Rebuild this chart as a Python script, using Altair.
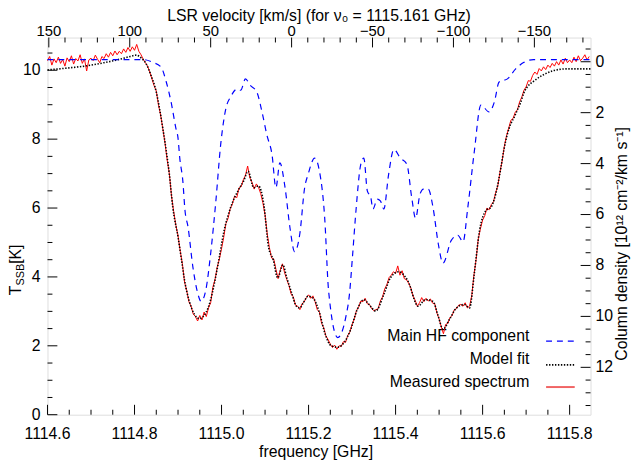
import altair as alt
import numpy as np
import pandas as pd

FONT = "Liberation Sans"
FS = 16

# ---------------- axis ranges ----------------
FREQ_DOMAIN = [1114.6, 1115.848]      # GHz
T_DOMAIN = [0.0, 10.95]               # K
NU0 = 1115.161                        # GHz, rest frequency for velocity axis
C_KMS = 299792.458
V_DOMAIN = [C_KMS * (1 - FREQ_DOMAIN[1] / NU0), C_KMS * (1 - FREQ_DOMAIN[0] / NU0)]
COLDEN_DOMAIN = [-0.95, 13.86]        # 1e12 cm^-2 / km s^-1 (inverted axis)

FREQ_MAJOR = [1114.6, 1114.8, 1115.0, 1115.2, 1115.4, 1115.6, 1115.8]
FREQ_LABELS = ["1114.6", "1114.8", "1115.0", "1115.2", "1115.4", "1115.6", "1115.8"]
FREQ_MINOR = [round(1114.6 + 0.05 * i, 3) for i in range(25) if i % 4 != 0]
T_MAJOR = [0, 2, 4, 6, 8, 10]
T_LABELS = ["0", "2", "4", "6", "8", "10"]
T_MINOR = [0.5 * i for i in range(22) if i % 4 != 0]
V_MAJOR = [150, 100, 50, 0, -50, -100, -150]
V_LABELS = ["150", "100", "50", "0", "\u221250", "\u2212100", "\u2212150"]
V_MINOR = [v for v in range(-180, 151, 10) if v % 50 != 0]
N_MAJOR = [0, 2, 4, 6, 8, 10, 12]
N_LABELS = ["0", "2", "4", "6", "8", "10", "12"]
N_MINOR = [0.5 * i for i in range(-1, 28) if not (i % 4 == 0 and 0 <= i <= 24)]

# ---------------- model fit (black dotted) ----------------
model_freq = [1114.600, 1114.650, 1114.691, 1114.730, 1114.766, 1114.790, 1114.804, 1114.815,
              1114.827, 1114.838, 1114.850, 1114.858, 1114.865, 1114.873, 1114.880, 1114.888,
              1114.900, 1114.908, 1114.915, 1114.926, 1114.938, 1114.949, 1114.964, 1114.975,
              1114.991, 1115.006, 1115.021, 1115.040, 1115.051, 1115.061, 1115.074, 1115.085,
              1115.097, 1115.108, 1115.119, 1115.129, 1115.141, 1115.150, 1115.161, 1115.172,
              1115.180, 1115.188, 1115.199, 1115.210, 1115.225, 1115.237, 1115.252, 1115.267,
              1115.282, 1115.297, 1115.312, 1115.327, 1115.339, 1115.354, 1115.373, 1115.388,
              1115.407, 1115.428, 1115.452, 1115.468, 1115.486, 1115.498, 1115.509, 1115.524,
              1115.540, 1115.558, 1115.570, 1115.581, 1115.593, 1115.608, 1115.619, 1115.630,
              1115.642, 1115.649, 1115.657, 1115.665, 1115.672, 1115.680, 1115.687, 1115.695,
              1115.705, 1115.717, 1115.740, 1115.763, 1115.793, 1115.848]
model_T = [10.01, 10.07, 10.13, 10.22, 10.32, 10.40, 10.44, 10.36,
           10.18, 9.85, 9.37, 8.85, 8.32, 7.65, 6.99, 6.02,
           5.16, 4.50, 3.90, 3.29, 2.91, 2.79, 2.96, 3.34,
           4.30, 5.35, 6.02, 6.55, 6.79, 7.07, 6.59, 6.64,
           6.12, 4.87, 4.49, 3.97, 4.35, 3.97, 3.54, 3.15,
           3.10, 3.25, 3.44, 3.39, 2.96, 2.39, 2.00, 1.96,
           2.10, 2.48, 3.06, 3.34, 3.20, 3.01, 3.49, 3.97,
           4.15, 3.89, 3.15, 3.34, 3.29, 2.86, 2.48, 2.77,
           3.10, 3.20, 3.10, 4.11, 5.35, 5.93, 6.02, 6.40,
           7.17, 7.70, 8.15, 8.45, 8.62, 8.85, 9.05, 9.35,
           9.55, 9.68, 9.87, 9.99, 10.04, 10.04]

# ---------------- main HF component (blue dashed) ----------------
hf_freq = [1114.600, 1114.820, 1114.842, 1114.861, 1114.873, 1114.884, 1114.895, 1114.900,
           1114.904, 1114.911, 1114.916, 1114.923, 1114.934, 1114.945, 1114.953, 1114.964,
           1114.975, 1114.987, 1114.998, 1115.010, 1115.021, 1115.036, 1115.044, 1115.055,
           1115.066, 1115.081, 1115.093, 1115.104, 1115.116, 1115.125, 1115.134, 1115.146,
           1115.157, 1115.168, 1115.180, 1115.191, 1115.199, 1115.214, 1115.225, 1115.237,
           1115.246, 1115.267, 1115.286, 1115.294, 1115.301, 1115.309, 1115.320, 1115.327,
           1115.335, 1115.343, 1115.348, 1115.358, 1115.365, 1115.373, 1115.384, 1115.396,
           1115.411, 1115.426, 1115.437, 1115.446, 1115.456, 1115.464, 1115.475, 1115.486,
           1115.498, 1115.509, 1115.528, 1115.543, 1115.555, 1115.566, 1115.581, 1115.596,
           1115.615, 1115.627, 1115.638, 1115.657, 1115.676, 1115.695, 1115.717, 1115.848]
hf_T = [10.31, 10.31, 10.23, 10.09, 9.66, 9.08, 8.32, 8.03,
        7.45, 6.79, 5.93, 5.45, 4.30, 3.54, 3.29, 3.63,
        4.68, 6.21, 7.84, 8.89, 9.23, 9.46, 9.42, 9.75,
        9.56, 9.37, 8.79, 8.13, 7.55, 6.59, 7.31, 6.59,
        5.45, 4.73, 5.26, 6.59, 6.98, 7.45, 7.07, 5.73,
        3.60, 2.24, 2.86, 3.50, 4.60, 5.93, 7.27, 7.45,
        6.50, 6.31, 5.97, 6.26, 6.21, 5.97, 6.98, 7.70,
        7.45, 7.27, 6.31, 5.70, 6.40, 6.55, 6.55, 6.02,
        4.97, 4.40, 5.06, 5.21, 5.02, 6.02, 7.65, 8.99,
        8.79, 9.08, 9.66, 9.75, 10.04, 10.23, 10.31, 10.31]

# ---------------- measured spectrum (red), channels every 5 MHz from 1114.600 GHz ----------------
SPEC_START, SPEC_STEP = 1114.600, 0.005
spec_T = [
    10.28, 10.40, 10.15, 10.33, 10.22, 10.38, 10.20, 10.31, 10.12, 10.36,   # 1114.60
    10.25, 10.42, 10.18, 10.34, 10.27, 10.45, 10.20, 10.33, 9.98, 10.30,    # 1114.65
    10.35, 10.28, 10.44, 10.32, 10.22, 10.40, 10.34, 10.48, 10.38, 10.52,   # 1114.70
    10.42, 10.56, 10.45, 10.55, 10.48, 10.62, 10.52, 10.66, 10.55, 10.68,   # 1114.75
    10.58, 10.75, 10.55, 10.45, 10.32, 10.22, 10.12, 9.95, 9.75, 9.55,      # 1114.80
    9.40, 9.00, 8.70, 8.30, 7.90, 7.40, 7.00, 6.35, 5.90, 5.50,             # 1114.85
    5.20, 4.75, 4.38, 3.85, 3.60, 3.28, 3.15, 2.92, 2.85, 2.72,             # 1114.90
    2.88, 2.75, 2.98, 2.85, 3.10, 3.25, 3.70, 3.92, 4.28, 4.52,             # 1114.95
    4.82, 5.15, 5.55, 5.70, 5.98, 6.12, 6.35, 6.30, 6.58, 6.62,             # 1115.00
    6.82, 6.95, 7.22, 6.88, 6.75, 6.55, 6.70, 6.60, 6.42, 6.15,             # 1115.05
    5.80, 5.25, 4.85, 4.55, 4.52, 4.22, 3.95, 4.20, 4.38, 4.12,             # 1115.10
    3.92, 3.75, 3.50, 3.42, 3.18, 3.15, 3.05, 3.22, 3.28, 3.40,             # 1115.15
    3.48, 3.38, 3.45, 3.28, 3.05, 2.98, 2.65, 2.52, 2.28, 2.18,             # 1115.20
    2.05, 1.95, 2.02, 1.90, 2.00, 1.98, 2.12, 2.10, 2.30, 2.40,             # 1115.25
    2.62, 2.78, 3.02, 3.12, 3.30, 3.28, 3.38, 3.22, 3.20, 3.08,             # 1115.30
    3.02, 3.05, 3.08, 3.30, 3.42, 3.65, 3.78, 3.98, 4.05, 4.15,             # 1115.35
    4.10, 4.32, 4.05, 4.18, 3.95, 3.92, 3.82, 3.68, 3.45, 3.32,             # 1115.40
    3.15, 3.25, 3.40, 3.28, 3.38, 3.30, 3.36, 3.24, 3.22, 2.95,             # 1115.45
    2.78, 2.55, 2.35, 2.62, 2.65, 2.82, 2.88, 3.05, 3.08, 3.18,             # 1115.50
    3.20, 3.15, 3.25, 3.10, 3.15, 3.45, 4.05, 4.50, 5.10, 5.40,             # 1115.55
    5.65, 5.78, 6.00, 5.95, 6.10, 6.18, 6.45, 6.65, 7.05, 7.38,             # 1115.60
    7.80, 8.10, 8.32, 8.55, 8.60, 8.78, 8.85, 9.08, 9.22, 9.42,             # 1115.65
    9.52, 9.70, 9.68, 9.85, 9.95, 9.88, 10.05, 9.98, 10.10, 10.02,          # 1115.70
    10.15, 10.08, 10.20, 10.12, 10.25, 10.15, 10.30, 10.18, 10.35, 10.22,   # 1115.75
    10.30, 10.22, 10.38, 10.25, 10.42, 10.28, 10.35, 10.45, 10.30, 10.40,   # 1115.80
]
spec_freq = [round(SPEC_START + SPEC_STEP * i, 3) for i in range(len(spec_T))]

LEGEND_LABELS = ["Main HF component", "Model fit", "Measured spectrum"]

# ---------------- geometry ----------------
W, H = 550, 382
MAJ, MIN = 10, 5

fx = alt.Scale(domain=FREQ_DOMAIN, zero=False, nice=False)
fy = alt.Scale(domain=T_DOMAIN, zero=False, nice=False)
vx = alt.Scale(domain=V_DOMAIN, reverse=True, zero=False, nice=False)
ny = alt.Scale(domain=COLDEN_DOMAIN, reverse=True, zero=False, nice=False)

spec_df = pd.DataFrame({"freq": spec_freq, "T": spec_T})
model_df = pd.DataFrame({"freq": model_freq, "T": model_T})
hf_df = pd.DataFrame({"freq": hf_freq, "T": hf_T})
one = pd.DataFrame({"a": [0]})


def text(label, x, y, size=FS, align="center", angle=0, baseline="alphabetic"):
    return alt.Chart(one).mark_text(text=label, font=FONT, fontSize=size, color="black",
                                    align=align, baseline=baseline, angle=angle).encode(
        x=alt.value(x), y=alt.value(y))


def xlabels(vals, labels, scale, ypos, size=FS):
    df = pd.DataFrame({"v": vals, "lab": labels})
    return alt.Chart(df).mark_text(font=FONT, fontSize=size, color="black", align="center",
                                   baseline="alphabetic").encode(
        x=alt.X("v:Q", scale=scale, axis=None), y=alt.value(ypos), text="lab:N")


def ylabels(vals, labels, scale, xpos, align):
    df = pd.DataFrame({"v": vals, "lab": labels})
    return alt.Chart(df).mark_text(font=FONT, fontSize=FS, color="black", align=align,
                                   baseline="middle").encode(
        y=alt.Y("v:Q", scale=scale, axis=None), x=alt.value(xpos), text="lab:N")


legend_text = [
    text(LEGEND_LABELS[0], 488, 307, align="right"),
    text(LEGEND_LABELS[1], 488, 331, align="right"),
    text(LEGEND_LABELS[2], 488, 354, align="right"),
]

red = alt.Chart(spec_df).mark_line(color="#ff0000", strokeWidth=1).encode(
    x=alt.X("freq:Q", scale=fx, axis=None), y=alt.Y("T:Q", scale=fy, axis=None))
black = alt.Chart(model_df).mark_line(color="black", strokeWidth=1.6, strokeDash=[1.4, 1.6],
                                      interpolate="monotone").encode(
    x=alt.X("freq:Q", scale=fx, axis=None), y=alt.Y("T:Q", scale=fy, axis=None))
blue = alt.Chart(hf_df).mark_line(color="#0000ff", strokeWidth=1.2, strokeDash=[6, 5],
                                  interpolate="monotone").encode(
    x=alt.X("freq:Q", scale=fx, axis=None), y=alt.Y("T:Q", scale=fy, axis=None))

legend_lines = [
    alt.Chart(one).mark_rule(color="#0000ff", strokeWidth=1.2, strokeDash=[6, 5]).encode(
        x=alt.value(505), x2=alt.value(534), y=alt.value(307.5)),
    alt.Chart(one).mark_rule(color="black", strokeWidth=1.6, strokeDash=[1.4, 1.6]).encode(
        x=alt.value(505), x2=alt.value(534), y=alt.value(331.5)),
    alt.Chart(one).mark_rule(color="#f06464", strokeWidth=2).encode(
        x=alt.value(505), x2=alt.value(534), y=alt.value(354)),
]


def xticks(vals, length, scale, top):
    df = pd.DataFrame({"v": vals})
    y0, y1 = (0, length) if top else (H, H - length)
    return alt.Chart(df).mark_rule(color="black", strokeWidth=1).encode(
        x=alt.X("v:Q", scale=scale, axis=None), y=alt.value(y0), y2=alt.value(y1))


def yticks(vals, length, scale, right):
    df = pd.DataFrame({"v": vals})
    x0, x1 = (W - length, W) if right else (0, length)
    return alt.Chart(df).mark_rule(color="black", strokeWidth=1).encode(
        y=alt.Y("v:Q", scale=scale, axis=None), x=alt.value(x0), x2=alt.value(x1))


titles = [
    text("frequency [GHz]", 272, 424.5),
    text("LSR velocity [km/s] (for \u03bd\u2080 = 1115.161 GHz)", 275, -16.5),
    text("T", -27, 261, angle=270, align="left"),
    text("SSB", -23.5, 251.2, size=11, angle=270, align="left"),
    text("\u00a0[K]", -27, 229.2, angle=270, align="left"),
    text("Column density [10\u00b9\u00b2 cm\u207b\u00b2/km s\u207b\u00b9]", 587, 209, angle=270),
]

group_a = alt.layer(
    *legend_text, red, black, blue, *legend_lines,
    xticks(FREQ_MAJOR, MAJ, fx, False), xticks(FREQ_MINOR, MIN, fx, False),
    yticks(T_MAJOR, MAJ, fy, False), yticks(T_MINOR, MIN, fy, False),
    xlabels(FREQ_MAJOR, FREQ_LABELS, fx, H + 24.5),
    ylabels(T_MAJOR, T_LABELS, fy, -7, "right"),
    *titles,
)

group_b = alt.layer(
    xticks(V_MAJOR, MAJ, vx, True), xticks(V_MINOR, MIN, vx, True),
    yticks(N_MAJOR, MAJ, ny, True), yticks(N_MINOR, MIN, ny, True),
    xlabels(V_MAJOR, V_LABELS, vx, -1.5, size=15),
    ylabels(N_MAJOR, N_LABELS, ny, W + 5, "left"),
)

chart = alt.layer(group_a, group_b).resolve_scale(x="independent", y="independent").properties(
    width=W, height=H,
    padding={"left": 40, "top": 27, "right": 41, "bottom": 46},
    autosize=alt.AutoSizeParams(type="none"),
).configure_view(stroke="black", strokeWidth=1).configure(font=FONT)

chart.save("out.html", embed_options={"renderer": "svg", "actions": False})
